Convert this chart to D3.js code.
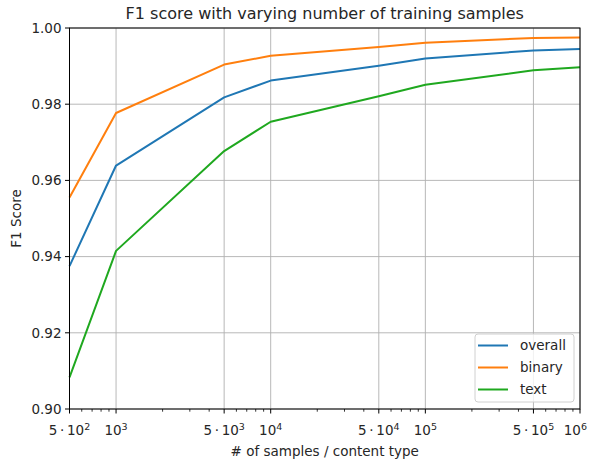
<!DOCTYPE html>
<html>
<head>
<meta charset="utf-8">
<script src="https://cdn.jsdelivr.net/npm/d3@7"></script>
<style>
  body { margin: 0; background: #fff; }
  text { font-family: "DejaVu Sans", sans-serif; fill: #262626; }
</style>
</head>
<body>
<div id="chart"></div>
<script>
// data
var samples = [500, 1000, 5000, 10000, 50000, 100000, 500000, 1000000];
var overall = [0.9375, 0.9639, 0.9818, 0.9862, 0.9901, 0.9920, 0.9941, 0.9945];
var binary  = [0.9555, 0.9777, 0.9904, 0.9927, 0.9950, 0.9961, 0.9974, 0.9975];
var text    = [0.9083, 0.9415, 0.9677, 0.9754, 0.9821, 0.9851, 0.9889, 0.9897];
var seriesNames = ["overall", "binary", "text"];
var colors = ["#1f77b4", "#ff7f0e", "#1fa81f"];

var xTicks = [500, 1000, 5000, 10000, 50000, 100000, 500000, 1000000];
var xTickMant = ["5", "", "5", "", "5", "", "5", ""];
var xTickExp = ["2", "3", "3", "4", "4", "5", "5", "6"];
var yTicks = [0.90, 0.92, 0.94, 0.96, 0.98, 1.00];

// setup dimensions
var W = 590, H = 460;
var margin = {top: 28, right: 10, bottom: 51, left: 69.5},
    width = W - margin.left - margin.right,
    height = H - margin.top - margin.bottom;

var svg = d3.select("#chart").append("svg")
    .attr("width", W)
    .attr("height", H);

var g = svg.append("g")
    .attr("transform", "translate(" + margin.left + "," + margin.top + ")");

var x = d3.scaleLog().domain([500, 1000000]).range([0, width]);
var y = d3.scaleLinear().domain([0.90, 1.00]).range([height, 0]);

// minor ticks
var minor = [];
[100, 1000, 10000, 100000].forEach(function (dec) {
  for (var k = 2; k <= 9; k++) {
    var v = k * dec;
    if (v > 500 && v < 1000000 && k != 5) minor.push(v);
  }
});

// grid
g.append("g").selectAll("line.gx")
  .data(xTicks)
  .enter().append("line")
    .attr("x1", function (d) { return x(d); })
    .attr("x2", function (d) { return x(d); })
    .attr("y1", 0).attr("y2", height)
    .style("stroke", "#b0b0b0").style("stroke-width", 0.9);
g.append("g").selectAll("line.gy")
  .data(yTicks)
  .enter().append("line")
    .attr("x1", 0).attr("x2", width)
    .attr("y1", function (d) { return y(d); })
    .attr("y2", function (d) { return y(d); })
    .style("stroke", "#b0b0b0").style("stroke-width", 0.9);

// lines
var allSeries = [overall, binary, text];
var line = d3.line()
  .x(function (d, i) { return x(samples[i]); })
  .y(function (d) { return y(d); });

allSeries.forEach(function (s, i) {
  g.append("path")
    .datum(s)
    .attr("d", line)
    .style("fill", "none")
    .style("stroke", colors[i])
    .style("stroke-width", 2)
    .style("stroke-linejoin", "round");
});

// frame
g.append("rect")
  .attr("width", width).attr("height", height)
  .style("fill", "none").style("stroke", "#000").style("stroke-width", 1);

// x ticks
g.append("g").selectAll("line")
  .data(xTicks)
  .enter().append("line")
    .attr("x1", function (d) { return x(d); })
    .attr("x2", function (d) { return x(d); })
    .attr("y1", height).attr("y2", height + 4.5)
    .style("stroke", "#000").style("stroke-width", 1);
g.append("g").selectAll("line")
  .data(minor)
  .enter().append("line")
    .attr("x1", function (d) { return x(d); })
    .attr("x2", function (d) { return x(d); })
    .attr("y1", height).attr("y2", height + 2.7)
    .style("stroke", "#000").style("stroke-width", 0.8);

var xl = g.append("g").selectAll("text")
  .data(xTicks)
  .enter().append("text")
    .attr("x", function (d) { return x(d); })
    .attr("y", height + 26)
    .attr("text-anchor", "middle")
    .style("font-size", "13.5px");
xl.each(function (d, i) {
  var t = d3.select(this);
  if (xTickMant[i]) t.append("tspan").text(xTickMant[i] + "\u2009\u00b7\u200910");
  else t.append("tspan").text("10");
  t.append("tspan").attr("dy", -5.5).style("font-size", "9.5px").text(xTickExp[i]);
  // keep the last label inside the picture
  var b = this.getBBox();
  var over = margin.left + b.x + b.width - (W - 3);
  if (over > 0) t.attr("x", x(d) - over);
});

// y ticks
g.append("g").selectAll("line")
  .data(yTicks)
  .enter().append("line")
    .attr("x1", -4.5).attr("x2", 0)
    .attr("y1", function (d) { return y(d); })
    .attr("y2", function (d) { return y(d); })
    .style("stroke", "#000").style("stroke-width", 1);
g.append("g").selectAll("text")
  .data(yTicks)
  .enter().append("text")
    .attr("x", -8)
    .attr("y", function (d) { return y(d); })
    .attr("dy", "0.36em")
    .attr("text-anchor", "end")
    .style("font-size", "13.5px")
    .text(function (d) { return d.toFixed(2); });

// titles
svg.append("text")
  .attr("x", margin.left + width / 2).attr("y", 19)
  .attr("text-anchor", "middle")
  .style("font-size", "16px")
  .text("F1 score with varying number of training samples");
svg.append("text")
  .attr("x", margin.left + width / 2).attr("y", 456)
  .attr("text-anchor", "middle")
  .style("font-size", "13.5px")
  .text("# of samples / content type");
svg.append("text")
  .attr("transform", "translate(21," + (margin.top + height / 2) + ") rotate(-90)")
  .attr("text-anchor", "middle")
  .style("font-size", "13.5px")
  .text("F1 Score");

// legend
var lg = svg.append("g").attr("transform", "translate(475,334)");
lg.append("rect")
  .attr("width", 99).attr("height", 68).attr("rx", 3)
  .style("fill", "#fff").style("fill-opacity", 0.8)
  .style("stroke", "#d0d0d0").style("stroke-width", 1);
seriesNames.forEach(function (name, i) {
  var yy = 11.5 + i * 22;
  lg.append("line")
    .attr("x1", 3).attr("x2", 33).attr("y1", yy).attr("y2", yy)
    .style("stroke", colors[i]).style("stroke-width", 2);
  lg.append("text")
    .attr("x", 45).attr("y", yy).attr("dy", "0.36em")
    .style("font-size", "13.5px")
    .text(name);
});
</script>
</body>
</html>
